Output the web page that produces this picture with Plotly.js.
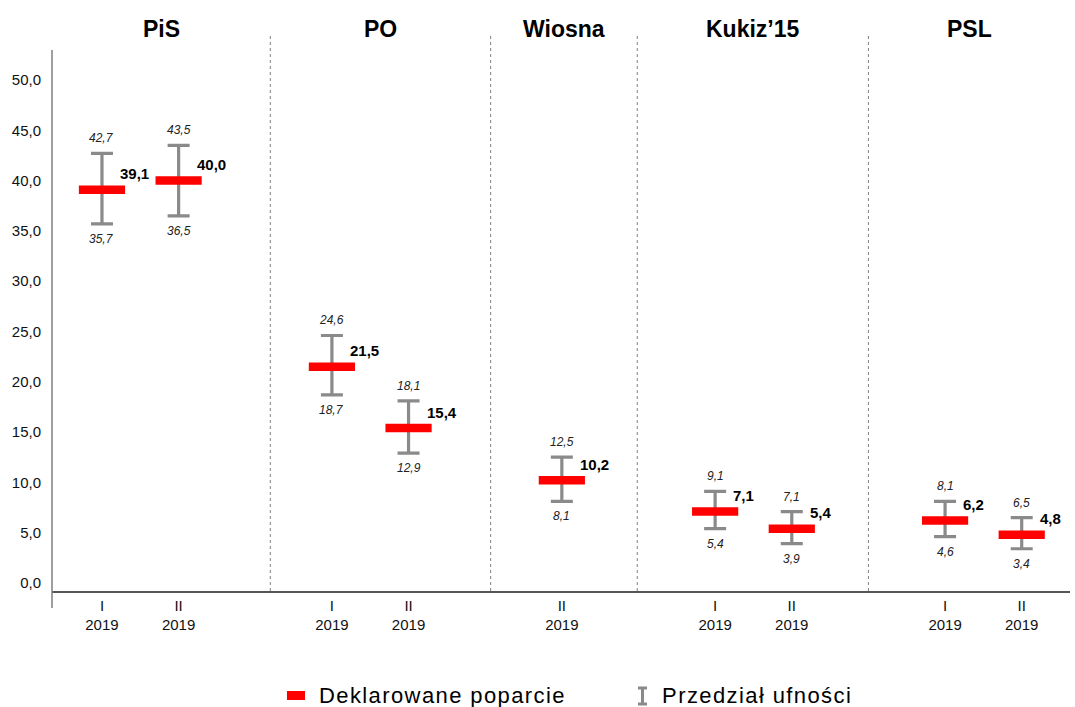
<!DOCTYPE html>
<html>
<head>
<meta charset="utf-8">
<script src="https://cdn.plot.ly/plotly-3.0.1.min.js"></script>
<style>
html,body{margin:0;padding:0;background:#fff;}
#chart{width:1075px;height:707px;}
.legend-like text{letter-spacing:1.4px;}
</style>
</head>
<body>
<div id="chart"></div>
<script>
// ---- data ----
const parties   = ['PiS', 'PiS', 'PO', 'PO', 'Wiosna', 'Kukiz’15', 'Kukiz’15', 'PSL', 'PSL'];
const waves     = ['I', 'II', 'I', 'II', 'II', 'I', 'II', 'I', 'II'];
const years     = ['2019', '2019', '2019', '2019', '2019', '2019', '2019', '2019', '2019'];
const support   = [39.1, 40.0, 21.5, 15.4, 10.2, 7.1, 5.4, 6.2, 4.8];
const ciLow     = [35.7, 36.5, 18.7, 12.9, 8.1, 5.4, 3.9, 4.6, 3.4];
const ciHigh    = [42.7, 43.5, 24.6, 18.1, 12.5, 9.1, 7.1, 8.1, 6.5];
const yTicks    = [0, 5, 10, 15, 20, 25, 30, 35, 40, 45, 50];
const legendNames = ['Deklarowane poparcie', 'Przedział ufności'];

// ---- layout helpers ----
const FONT = '"Liberation Sans", Arial, sans-serif';
const fmt = v => v.toFixed(1).replace('.', ',');

// x slot positions: one empty slot between party groups
const xPos = [];
let slot = 0;
parties.forEach((p, i) => {
  if (i === 0) slot = 1;
  else slot += (p === parties[i - 1]) ? 1 : 2;
  xPos.push(slot);
});
const groups = parties.filter((p, i) => i === 0 || p !== parties[i - 1]);
const xRange = [0.348, 13.63];
const separators = [3.196, 6.071, 7.984, 11.0];
const bounds = [xRange[0], ...separators, xRange[1]];

const GRAY = '#8a8a8a';
const RED = '#ff0000';

const errTrace = {
  type: 'scatter', mode: 'markers', x: xPos, y: support,
  marker: {size: 1, opacity: 0},
  error_y: {
    type: 'data', symmetric: false,
    array: ciHigh.map((h, i) => +(h - support[i]).toFixed(2)),
    arrayminus: ciLow.map((l, i) => +(support[i] - l).toFixed(2)),
    color: GRAY, thickness: 3.2, width: 11
  },
  name: legendNames[1], showlegend: false, hoverinfo: 'skip'
};
const barTrace = {
  type: 'scatter', mode: 'markers', x: xPos, y: support,
  marker: {symbol: 'line-ew', size: 33, color: RED, line: {color: RED, width: 8.5}},
  name: legendNames[0], showlegend: false, hoverinfo: 'skip'
};

const annotations = [];
// party titles centered in their sections
groups.forEach((g, k) => {
  annotations.push({
    x: (bounds[k] + bounds[k + 1]) / 2, xref: 'x', y: 1.007, yref: 'paper',
    text: g, showarrow: false, xanchor: 'center', yanchor: 'middle',
    font: {family: FONT, size: 23, color: '#000', weight: 'bold'}
  });
});
// value labels
xPos.forEach((x, i) => {
  annotations.push({
    x: x, y: support[i], xref: 'x', yref: 'y', text: fmt(support[i]),
    showarrow: false, xanchor: 'left', yanchor: 'middle', xshift: 16, yshift: 16,
    font: {family: FONT, size: 15, color: '#000', weight: 'bold'}
  });
  annotations.push({
    x: x, y: ciHigh[i], xref: 'x', yref: 'y', text: fmt(ciHigh[i]),
    showarrow: false, xanchor: 'center', yanchor: 'middle', yshift: 15,
    font: {family: FONT, size: 12, color: '#222', style: 'italic'}
  });
  annotations.push({
    x: x, y: ciLow[i], xref: 'x', yref: 'y', text: fmt(ciLow[i]),
    showarrow: false, xanchor: 'center', yanchor: 'middle', yshift: -15,
    font: {family: FONT, size: 12, color: '#222', style: 'italic'}
  });
});
// legend texts
const legendStart = annotations.length;
annotations.push({
  x: 0.2741, y: -0.187, xref: 'paper', yref: 'paper', text: legendNames[0],
  showarrow: false, xanchor: 'left', yanchor: 'middle',
  font: {family: FONT, size: 22, color: '#000'}
});
annotations.push({
  x: 0.6090, y: -0.187, xref: 'paper', yref: 'paper', text: legendNames[1],
  showarrow: false, xanchor: 'left', yanchor: 'middle',
  font: {family: FONT, size: 22, color: '#000'}
});

const shapes = [];
separators.forEach(s => {
  shapes.push({type: 'line', xref: 'x', yref: 'paper', x0: s, x1: s, y0: 0, y1: 1,
    line: {color: '#808080', width: 1, dash: 'dot'}});
});
// y axis line (extends below the x axis)
shapes.push({type: 'line', xref: 'paper', yref: 'paper', x0: 0, x1: 0, y0: -0.0305, y1: 0.9695,
  line: {color: '#7f7f7f', width: 1.5}});
// legend icons
shapes.push({type: 'rect', xref: 'paper', yref: 'paper', x0: 0.2308, x1: 0.2485, y0: -0.1953, y1: -0.1792,
  fillcolor: RED, line: {width: 0}});
shapes.push({type: 'line', xref: 'paper', yref: 'paper', x0: 0.58006, x1: 0.58006, y0: -0.2025, y1: -0.1738,
  line: {color: GRAY, width: 3}});
shapes.push({type: 'line', xref: 'paper', yref: 'paper', x0: 0.5756, x1: 0.5845, y0: -0.1738, y1: -0.1738,
  line: {color: GRAY, width: 3}});
shapes.push({type: 'line', xref: 'paper', yref: 'paper', x0: 0.5756, x1: 0.5845, y0: -0.2025, y1: -0.2025,
  line: {color: GRAY, width: 3}});

const layout = {
  width: 1075, height: 707,
  margin: {l: 52, r: 5, t: 33, b: 116},
  paper_bgcolor: '#fff', plot_bgcolor: '#fff',
  showlegend: false,
  font: {family: FONT, color: '#000'},
  xaxis: {
    range: xRange, tickmode: 'array', tickvals: xPos,
    ticktext: xPos.map((x, i) => waves[i] + '<br>' + years[i]),
    showgrid: false, zeroline: false, showline: true, linecolor: '#555', linewidth: 1.5,
    ticks: '', tickfont: {family: FONT, size: 15, color: '#111'}, fixedrange: true
  },
  yaxis: {
    range: [-0.8, 54.67], tickmode: 'array', tickvals: yTicks,
    ticktext: yTicks.map(fmt),
    showgrid: false, zeroline: false, showline: false,
    ticks: '', ticklabelstandoff: 10,
    tickfont: {family: FONT, size: 15, color: '#111'}, fixedrange: true
  },
  annotations: annotations,
  shapes: shapes
};

Plotly.newPlot('chart', [errTrace, barTrace], layout, {displayModeBar: false, staticPlot: true}).then(gd => {
  // widen legend text spacing slightly, as in the reference
  [legendStart, legendStart + 1].forEach(idx => {
    const g = gd.querySelector('.annotation[data-index="' + idx + '"]');
    if (g) g.classList.add('legend-like');
  });
});
</script>
</body>
</html>
